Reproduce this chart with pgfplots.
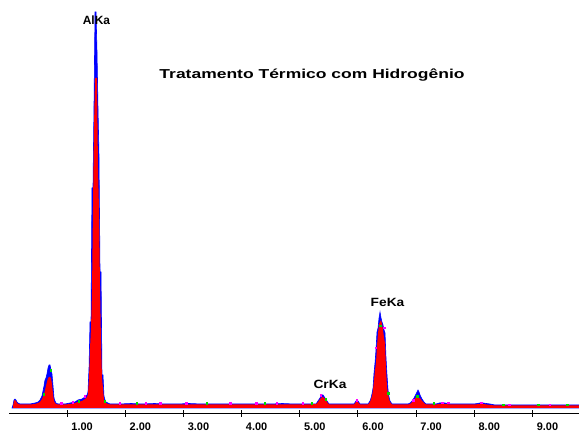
\documentclass[border=0pt]{standalone}
\usepackage{fontspec}
\setmainfont{Liberation Sans}
\usepackage{pgfplots}
\pgfplotsset{compat=1.18}
\definecolor{specred}{RGB}{255,0,0}
\definecolor{specblue}{RGB}{0,0,255}
\definecolor{noisepink}{RGB}{255,0,255}
\definecolor{noisegreen}{RGB}{0,220,0}
\begin{document}
\begin{tikzpicture}
\path[use as bounding box] (-9bp,-22.5bp) rectangle (570bp,413.5bp);
\begin{axis}[
  scale only axis, width=570bp, height=413.5bp,
  xmin=0, xmax=9.80, ymin=-5.5, ymax=408,
  axis x line*=bottom, axis y line=none, ytick=\empty,
  xtick={1,2,3,4,5,6,7,8,9},
  xticklabels={1.00,2.00,3.00,4.00,5.00,6.00,7.00,8.00,9.00},
  tick align=center, major tick length=6bp,
  x axis line style={line width=1.6bp, black},
  xtick style={line width=1bp, black},
  xticklabel style={font=\bfseries\fontsize{11}{11}\selectfont, xshift=15bp, yshift=-3bp},
]
% blue spectrum (envelope)
\addplot[fill=specblue, draw=specblue, line width=0.6bp] coordinates {
(0.052,0) (0.069,3) (0.086,8) (0.103,9) (0.120,8) (0.138,6) (0.155,5) (0.189,4) (0.275,4) (0.361,4) (0.447,5) (0.499,6) (0.533,8) (0.567,12) (0.602,22) (0.619,28) (0.636,30) (0.653,34) (0.671,40) (0.688,43) (0.705,43) (0.722,38) (0.739,34) (0.757,22) (0.774,10) (0.791,7) (0.808,5) (0.842,4) (0.963,4) (1.049,5) (1.135,6) (1.186,8) (1.255,9) (1.307,11) (1.341,13) (1.358,16) (1.376,40) (1.393,86) (1.410,86) (1.427,220) (1.444,220) (1.461,300) (1.479,396) (1.496,396) (1.513,356) (1.530,300) (1.547,253) (1.565,136) (1.582,136) (1.599,33) (1.616,33) (1.633,12) (1.651,8) (1.668,6) (1.702,5) (1.737,4)
(1.9,4) (2.1,4.5) (2.3,4) (2.5,4.5) (2.7,4) (2.9,4) (3.1,4.5) (3.3,4) (3.5,4) (3.7,4) (3.9,4) (4.1,4) (4.3,4) (4.5,4) (4.7,4.5) (4.9,4) (5.1,4)
(5.279,4) (5.313,7) (5.347,10) (5.382,13) (5.399,13) (5.433,10) (5.468,7) (5.502,4) (5.7,4) (5.932,4) (5.966,7) (6.001,7) (6.035,4) (6.173,4)
(6.207,7) (6.224,10) (6.241,14) (6.259,20) (6.276,35) (6.293,45) (6.310,58) (6.327,76) (6.345,80) (6.362,90) (6.379,96) (6.396,90) (6.413,86) (6.431,83) (6.448,78) (6.465,75) (6.482,50) (6.499,33) (6.517,18) (6.534,11) (6.551,7) (6.585,4)
(6.860,4) (6.895,5) (6.929,7) (6.964,10) (6.998,14) (7.015,16) (7.032,18) (7.050,16) (7.067,13) (7.101,9) (7.136,6) (7.170,4) (7.342,4) (7.40,5) (7.50,5) (7.582,4) (8.0,4) (8.098,5) (8.15,5) (8.27,4) (8.356,3) (9.0,3) (9.80,3)
} \closedcycle;
% red spectrum
\addplot[fill=specred, draw=none] coordinates {
(0.069,0) (0.069,2) (0.086,7) (0.103,8) (0.120,7) (0.138,5) (0.155,4) (0.189,3.5) (0.275,3.5) (0.361,3.5) (0.447,4) (0.499,5) (0.533,6) (0.567,9) (0.602,14) (0.619,18) (0.636,22) (0.653,26) (0.671,30) (0.688,31) (0.705,31) (0.722,30) (0.739,24) (0.757,14) (0.774,7) (0.791,5) (0.808,4) (0.842,3.5) (0.963,3.5) (1.049,4) (1.135,5) (1.186,6) (1.255,7) (1.307,9) (1.341,11) (1.358,14) (1.376,30) (1.393,60) (1.410,80) (1.427,116) (1.444,200) (1.461,280) (1.479,330) (1.496,330) (1.513,330) (1.530,240) (1.547,200) (1.565,120) (1.582,66) (1.599,30) (1.616,20) (1.633,8) (1.651,6) (1.668,5) (1.702,4) (1.737,3.5)
(1.9,3.5) (2.1,3.5) (2.3,3.5) (2.5,3.5) (2.7,3.5) (2.9,3.5) (3.1,3.5) (3.3,3.5) (3.5,3.5) (3.7,3.5) (3.9,3.5) (4.1,3.5) (4.3,3.5) (4.5,3.5) (4.7,3.5) (4.9,3.5) (5.1,3.5)
(5.279,4) (5.313,6) (5.347,9) (5.382,11) (5.399,11) (5.433,9) (5.468,6) (5.502,3.5) (5.7,3.5) (5.932,3.5) (5.966,6) (6.001,6) (6.035,3.5) (6.173,3.5)
(6.207,6) (6.224,9) (6.241,12) (6.259,18) (6.276,28) (6.293,38) (6.310,45) (6.327,62) (6.345,75) (6.362,84) (6.379,86) (6.396,88) (6.413,84) (6.431,78) (6.448,70) (6.465,65) (6.482,40) (6.499,21) (6.517,14) (6.534,9) (6.551,6) (6.585,3.5)
(6.860,3.5) (6.895,4) (6.929,6) (6.964,8) (6.998,11) (7.015,11) (7.032,11) (7.050,10) (7.067,10) (7.101,7) (7.136,5) (7.170,3.5) (7.342,3.5) (7.40,4) (7.50,4) (7.582,3.5) (8.0,3.5) (8.098,4) (8.15,4) (8.27,3) (8.356,2.5) (9.0,2.5) (9.80,2.5)
} \closedcycle;
% noise dots
\addplot[only marks, mark=square*, mark size=0.7bp, noisepink, draw=none] coordinates {
(0.9,5) (1.1,6) (1.3,12) (1.9,5) (2.35,5) (2.6,5) (3.05,5) (3.8,5) (4.25,5) (4.6,5) (5.05,5) (5.36,13) (5.98,8) (6.30,60) (6.45,80) (6.95,8) (7.45,5.5) (7.55,5.5) (8.12,5.5) (8.6,3.5) (9.3,3.5)
};
\addplot[only marks, mark=square*, mark size=0.7bp, noisegreen, draw=none] coordinates {
(0.6,14) (0.72,38) (1.2,7) (1.65,7) (2.2,5) (3.4,5) (4.4,5) (5.20,5) (5.44,9) (6.38,82) (6.52,15) (7.02,12) (7.3,5) (8.5,3.5) (9.1,3.5) (9.6,3.5)
};
\node[font=\bfseries\fontsize{12}{12}\selectfont] at (axis cs:1.504,388) {AlKa};
\node[font=\bfseries\fontsize{12}{12}\selectfont] at (axis cs:6.508,106) {\scalebox{1.15}[1]{FeKa}};
\node[font=\bfseries\fontsize{12}{12}\selectfont] at (axis cs:5.519,24) {\scalebox{1.15}[1]{CrKa}};
\node[font=\bfseries\fontsize{13}{13}\selectfont] at (axis cs:5.210,333) {\scalebox{1.35}[1]{Tratamento Térmico com Hidrogênio}};
\end{axis}
\end{tikzpicture}
\end{document}
